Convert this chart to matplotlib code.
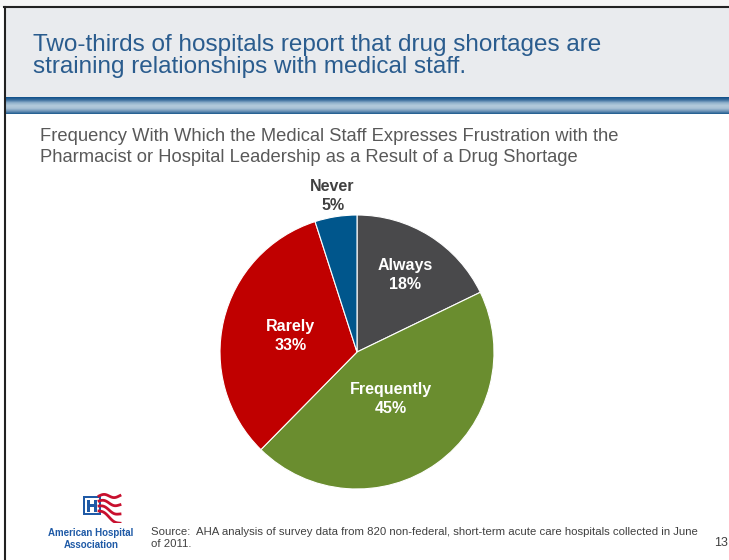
import matplotlib.pyplot as plt
import matplotlib.patches as mpatches
from matplotlib.colors import LinearSegmentedColormap
import numpy as np

plt.rcParams['font.family'] = ['Liberation Sans', 'DejaVu Sans']

categories = ['Always', 'Frequently', 'Rarely', 'Never']
shares = [18, 45, 33, 5]
colors = ['#49494b', '#6a8d2f', '#c00000', '#00568c']

title = 'Two-thirds of hospitals report that drug shortages are\nstraining relationships with medical staff.'
subtitle = ('Frequency With Which the Medical Staff Expresses Frustration with the\n'
            'Pharmacist or Hospital Leadership as a Result of a Drug Shortage')
source = ('Source:  AHA analysis of survey data from 820 non-federal, short-term acute care hospitals collected in June\n'
          'of 2011.')

W, H = 729, 560
fig = plt.figure(figsize=(W / 100, H / 100), dpi=100)
fig.patch.set_facecolor('white')


def fx(x):
    return x / W


def fy(y):
    return 1 - y / H


# slide frame and header
fig.patches.append(mpatches.Rectangle((0, fy(7)), 1, 7 / H, transform=fig.transFigure,
                                      facecolor='#f5f5f5', edgecolor='none'))
fig.patches.append(mpatches.Rectangle((fx(5), fy(97)), 1, 90 / H, transform=fig.transFigure,
                                      facecolor='#e9ebee', edgecolor='none'))
grad_ax = fig.add_axes([fx(5), fy(114), 1 - fx(5), 17 / H])
grad = np.linspace(0, 1, 64).reshape(-1, 1)
cmap = LinearSegmentedColormap.from_list(
    'hdr', ['#0e4f8a', '#3c6f9e', '#8fb0cb', '#b3cbdc', '#a9c2d6', '#6f95b8', '#1d5a8e'])
grad_ax.imshow(grad, aspect='auto', cmap=cmap, extent=[0, 1, 0, 1])
grad_ax.axis('off')
fig.add_artist(plt.Line2D([fx(4), 1], [fy(6.5), fy(6.5)], color='#222222', lw=1.5))
fig.add_artist(plt.Line2D([fx(4.5), fx(4.5)], [fy(6.5), 0], color='#222222', lw=1.5))

fig.text(fx(33), fy(56), title, fontsize=17.5, color='#2a5c8e', va='center', ha='left',
         linespacing=0.95)
fig.text(fx(40), fy(147), subtitle, fontsize=13.2, color='#595959', va='center', ha='left',
         linespacing=1.35)

# pie
cx, cy, r = 357, 352, 137
ax = fig.add_axes([fx(cx - r), fy(cy + r), 2 * r / W, 2 * r / H])
wedges, _ = ax.pie(shares, colors=colors, startangle=90, counterclock=False,
                   wedgeprops=dict(edgecolor='white', linewidth=0.8))
ax.set_xlim(-1, 1)
ax.set_ylim(-1, 1)
ax.set_aspect('equal')
ax.axis('off')

label_dist = [0.66, 0.42, 0.5, 1.15]
label_col = ['white', 'white', 'white', '#404040']
for w, name, val, d, c in zip(wedges, categories, shares, label_dist, label_col):
    ang = np.deg2rad((w.theta1 + w.theta2) / 2)
    ax.text(d * np.cos(ang), d * np.sin(ang), f'{name}\n{val}%', ha='center', va='center',
            fontsize=11.5, fontweight='bold', color=c, linespacing=1.35, clip_on=False)

# logo
logo = fig.add_axes([fx(82), fy(523), 40 / W, 30 / H])
logo.set_xlim(0, 40)
logo.set_ylim(0, 30)
logo.axis('off')
logo.add_patch(mpatches.Rectangle((1, 8), 18, 19, facecolor='#1f5aa6', edgecolor='none'))
logo.add_patch(mpatches.Rectangle((3, 10), 14, 15, facecolor='white', edgecolor='none'))
logo.add_patch(mpatches.Rectangle((5, 11.5), 3, 12, facecolor='#1f5aa6', edgecolor='none'))
logo.add_patch(mpatches.Rectangle((12, 11.5), 3, 12, facecolor='#1f5aa6', edgecolor='none'))
logo.add_patch(mpatches.Rectangle((5, 16), 10, 3, facecolor='#1f5aa6', edgecolor='none'))
xs = np.linspace(17, 38, 30)
for k in range(4):
    logo.plot(xs, 27 - k * 5 + 1.6 * np.sin((xs - 17) / 3.2) - (xs - 17) * 0.2 * k,
              color='#c8102e', lw=2)
fig.text(fx(91), fy(539), 'American Hospital\nAssociation', fontsize=7, fontweight='bold',
         color='#1f5aa6', ha='center', va='center', linespacing=1.25)

fig.text(fx(151), fy(538), source, fontsize=8.2, color='#404040', ha='left', va='center',
         linespacing=1.15)
fig.text(fx(728), fy(543), '13', fontsize=9, color='#404040', ha='right', va='center')

fig.savefig('out.png', dpi=100)
